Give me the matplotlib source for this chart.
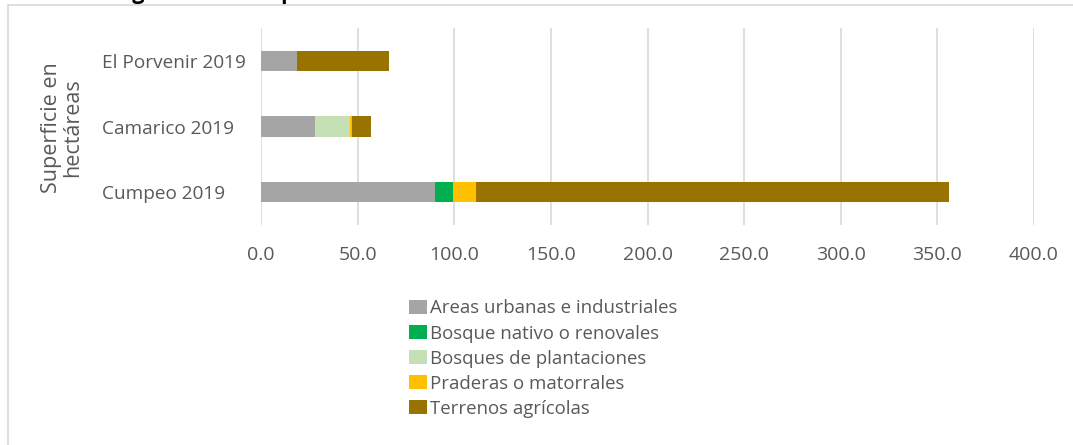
import matplotlib
matplotlib.use("Agg")
import matplotlib.pyplot as plt
from matplotlib.patches import Rectangle
import numpy as np

# ---- data ----
categories = ["Cumpeo 2019", "Camarico 2019", "El Porvenir 2019"]
series_names = ["Areas urbanas e industriales", "Bosque nativo o renovales",
                "Bosques de plantaciones", "Praderas o matorrales", "Terrenos agrícolas"]
urbanas = [90.0, 28.0, 18.8]
nativo = [9.5, 0.0, 0.0]
plantaciones = [0.0, 18.1, 0.0]
praderas = [11.6, 0.8, 0.0]
agricolas = [244.7, 10.0, 47.5]
xticks = [0, 50, 100, 150, 200, 250, 300, 350, 400]
colors = ["#A5A5A5", "#00B050", "#C5E0B4", "#FFC000", "#997300"]

W, H = 1073, 445
plt.rcParams['font.family'] = ['Open Sans', 'DejaVu Sans']
fig = plt.figure(figsize=(W / 100, H / 100), dpi=100)

# outer chart border
fig.patches.append(Rectangle((8 / W, -0.05), 1.2, 1 - 5 / H + 0.05, transform=fig.transFigure,
                             fill=False, edgecolor="#D9D9D9", linewidth=1.2))

ax = fig.add_axes([261 / W, 1 - 225 / H, (1034 - 261) / W, (225 - 28) / H])
y = np.arange(len(categories))
left = np.zeros(len(categories))
handles = []
for name, vals, c in zip(series_names, [urbanas, nativo, plantaciones, praderas, agricolas], colors):
    b = ax.barh(y, vals, left=left, height=0.31, color=c, label=name, zorder=3)
    handles.append(b)
    left = left + np.array(vals)

ax.set_xlim(0, 400)
ax.set_ylim(-0.5, 2.5)
ax.set_xticks(xticks)
ax.set_xticklabels([f"{v:.1f}" for v in xticks], color="#595959", fontsize=14)
ax.tick_params(axis="x", length=0, pad=15)
ax.set_yticks(y)
ax.set_yticklabels(categories, color="#595959", fontsize=13.7, ha="left")
ax.tick_params(axis="y", length=0, pad=(261 - 102) * 0.72)
ax.grid(axis="x", color="#D9D9D9", linewidth=1.2, zorder=0)
for s in ax.spines.values():
    s.set_visible(False)

fig.text(62 / W, 1 - 128 / H, "Superficie en\nhectáreas", rotation=90, ha="center", va="center",
         color="#595959", fontsize=15.5, linespacing=1.05)

fig.text(114 / W, 1 + 1.5 / H, "Figura N° 15: Superficie de uso de suelo en hectáreas", ha="left",
         va="baseline", fontsize=15.5, fontweight="bold", color="black")

fig.legend(handles=handles, labels=series_names, loc="upper left",
           bbox_to_anchor=(402 / W, 1 - 292 / H), frameon=False, fontsize=13.4,
           handlelength=0.95, handleheight=0.8, handletextpad=0.18, labelspacing=0.38,
           labelcolor="#595959", borderaxespad=0)

fig.savefig("out.png", dpi=100, facecolor="white")
